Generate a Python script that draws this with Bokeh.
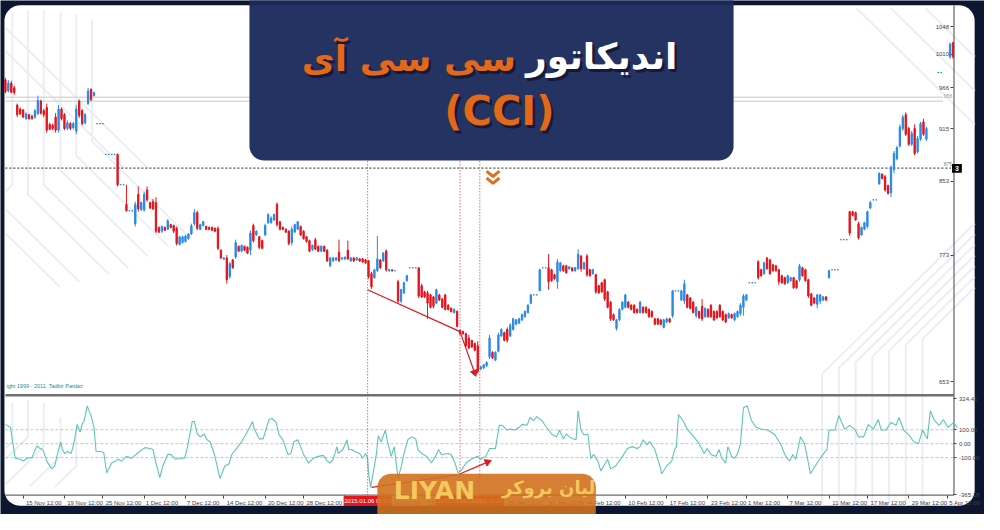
import math
from bokeh.plotting import figure
from bokeh.models import (Range1d, LinearScale, LinearAxis, FixedTicker,
                          PrintfTickFormatter, ColumnDataSource)
from bokeh.core.properties import value
from bokeh.embed import file_html
from bokeh.resources import INLINE

# ---------------- values ----------------
bar = list(range(313)) + [316, 317, 320, 321]
open_ = [
 976,962,972,966,944,939,938,927,932,930,
 929,933,949,937,941,920,919,929,913,939,
 932,915,921,916,912,949,937,922,946,964,
 956,921,921,921,884,884,884,884,884,849,
 849,827,820,820,806,838,821,821,843,829,
 830,829,802,798,802,800,805,804,801,784,
 786,787,790,795,806,818,800,804,803,802,
 802,801,801,778,769,770,751,768,771,782,
 777,782,781,778,804,794,792,788,794,807,
 807,810,827,808,802,800,798,786,797,800,
 803,798,792,788,779,789,782,777,782,778,
 762,767,768,776,769,769,778,767,770,768,
 769,769,768,767,754,750,757,768,767,777,
 757,758,757,746,727,735,747,760,760,760,
 760,742,736,735,733,731,725,733,729,733,
 723,720,716,717,699,698,696,692,690,687,
 685,664,665,667,675,679,672,680,694,697,
 700,694,700,705,706,709,712,716,725,733,
 733,737,760,760,760,758,753,746,757,762,
 762,759,760,757,759,772,759,772,758,754,
 753,742,745,748,736,726,714,701,709,719,
 721,726,723,723,719,716,721,721,719,717,
 710,710,709,702,707,710,713,737,737,728,
 727,733,730,726,713,717,722,712,719,723,
 717,717,723,717,714,711,714,709,712,715,
 721,728,745,745,745,766,758,754,770,768,
 763,762,758,752,750,745,747,750,747,748,
 760,758,748,734,730,724,727,728,731,750,
 758,758,758,789,789,789,819,819,818,806,
 794,800,803,823,832,832,850,861,858,848,
 840,866,879,894,915,932,915,896,915,887,
 902,923,902,
 986,986,1007,1026]
high = [
 979,976,975,969,946,941,939,935,933,932,
 939,956,951,939,946,922,921,934,944,941,
 934,925,923,923,944,951,939,934,966,965,
 961,921,921,921,884,884,884,884,885,849,
 849,849,820,820,830,847,830,841,847,830,
 833,835,803,804,803,811,806,805,803,793,
 793,794,796,806,822,820,806,809,804,803,
 803,802,803,779,771,773,766,769,789,783,
 784,783,782,799,806,799,793,789,806,817,
 814,817,829,809,803,801,799,803,806,809,
 804,799,793,789,784,791,783,783,783,779,
 771,771,771,789,771,771,788,771,771,771,
 770,770,769,768,756,759,793,769,776,779,
 759,758,757,748,739,746,753,760,760,760,
 760,744,737,737,734,732,739,734,730,734,
 724,721,720,718,700,699,697,695,690,688,
 689,667,668,671,695,680,680,697,701,698,
 702,706,711,710,711,715,718,724,734,733,
 733,759,760,760,774,759,754,769,766,763,
 763,761,760,761,779,773,766,774,759,759,
 754,743,746,749,737,727,715,710,720,727,
 734,727,724,724,720,727,722,722,720,718,
 711,711,710,710,711,711,738,737,737,738,
 748,734,731,727,722,718,729,721,720,724,
 718,718,724,718,715,716,715,716,718,725,
 734,734,745,745,745,768,759,766,771,769,
 764,763,759,753,751,753,751,751,748,764,
 761,759,749,735,731,734,734,732,732,758,
 758,758,758,789,789,789,820,820,819,808,
 803,808,820,831,832,832,863,862,860,849,
 871,888,894,920,932,935,917,912,920,906,
 923,927,917,
 986,986,1026,1026]
low = [
 959,960,959,957,929,932,928,926,926,926,
 927,932,932,929,910,913,913,910,910,925,
 913,913,913,914,908,928,919,920,944,949,
 955,921,921,921,884,884,884,884,847,849,
 849,819,820,820,803,819,820,819,830,822,
 821,796,796,796,798,799,801,796,783,783,
 785,786,789,794,804,799,799,803,799,799,
 798,797,778,769,768,744,749,759,769,776,
 776,777,774,773,786,793,779,779,793,806,
 806,809,803,799,799,796,783,783,796,799,
 793,789,786,776,777,778,776,776,776,766,
 761,766,767,766,768,768,768,766,766,767,
 766,765,764,749,739,749,756,759,766,756,
 756,756,757,725,725,734,746,760,760,760,
 730,730,730,710,720,720,724,727,720,718,
 718,716,715,702,695,695,684,682,683,680,
 660,663,664,666,673,673,671,679,693,689,
 688,693,699,704,705,708,711,715,724,733,
 733,737,760,760,738,746,748,739,756,756,
 754,758,756,756,758,756,758,751,751,753,
 734,734,735,727,720,708,708,699,708,718,
 720,720,718,715,715,715,715,715,711,711,
 704,704,704,701,706,706,711,737,737,727,
 724,720,719,715,711,710,708,711,711,711,
 708,710,711,708,706,710,710,708,711,713,
 713,727,745,745,745,748,751,753,758,753,
 756,756,743,744,743,744,746,739,739,746,
 751,746,730,722,724,720,724,727,727,749,
 758,758,758,789,789,789,793,814,809,789,
 793,799,801,822,832,832,849,855,841,838,
 835,862,877,892,912,906,894,894,883,885,
 900,906,900,
 986,986,1004,1004]
close = [
 961,972,960,960,932,933,929,933,927,927,
 937,950,934,932,913,914,915,913,939,927,
 915,922,915,921,939,931,921,932,962,951,
 960,921,921,921,884,884,884,884,849,849,
 849,820,820,820,827,822,829,838,832,823,
 822,798,797,803,799,809,802,798,785,792,
 792,793,795,804,818,801,805,808,800,800,
 799,798,780,770,770,748,764,760,786,777,
 783,778,775,796,788,798,781,780,804,816,
 812,816,805,800,800,797,785,800,805,808,
 794,790,787,777,783,779,777,782,777,767,
 770,770,770,767,770,771,769,770,767,770,
 767,766,765,751,741,758,769,760,775,758,
 758,757,757,727,738,745,752,760,760,760,
 732,731,731,725,721,722,738,728,721,719,
 719,717,719,703,696,696,685,683,684,681,
 662,666,668,670,692,674,679,695,700,690,
 690,704,710,709,710,714,717,723,733,733,
 733,758,760,760,746,747,749,766,765,757,
 755,761,757,760,774,759,765,753,752,758,
 736,735,736,729,721,710,709,709,719,726,
 733,721,719,716,716,726,716,716,712,712,
 705,705,705,709,710,707,737,737,737,737,
 744,721,720,716,721,711,710,720,712,712,
 709,711,712,709,707,715,711,715,717,723,
 732,733,745,745,745,750,752,765,759,754,
 757,757,746,745,744,752,750,740,740,762,
 752,747,732,723,725,733,733,731,728,757,
 758,758,758,789,789,789,796,815,810,791,
 802,807,819,829,832,832,862,856,843,839,
 869,885,892,917,929,908,896,909,885,903,
 921,908,915,
 986,986,1024,1007]

cci_bar = [
 0,1.7,3.3,5,6,7.3,9,10.7,11.7,12.7,
 14,15.7,16.7,17.7,18.7,19.3,20,21,22.3,23.3,
 24.3,25.3,26,26.7,27.7,29,30,30.7,32.3,33.3,
 34.3,36,37.3,38.3,39.3,41,42.7,45,47.3,49,
 50,51,52.3,53.3,55,56,57.7,59,60.7,61.7,
 63.3,64,65,66,67.3,68.3,69.3,70.7,71.7,72.7,
 74.3,75.7,76.7,78.3,80,82.3,83.7,84.3,86,87.3,
 88.3,89.3,90.3,91.7,92.7,94,95.7,96.7,97.7,99,
 100,101,102.7,104.3,106,107.7,109,110,111,112.3,
 112.7,114.3,115.7,116.3,117.3,118.3,120,121,122,122.7,
 123,123.7,124.3,125.7,126.3,127.3,128.7,129.3,130.7,131.7,
 133,134,135,136.3,137.7,139,139.7,141,142.7,144.3,
 145.7,146.7,147.7,150,151,152.3,153.3,154.3,156,158.3,
 160,161,162.7,164,165,166,167.3,168.3,170,171,
 172.7,174,175,176.7,177.7,179,180,181.7,183.3,185,
 186.7,187.7,189,190,191,192.3,193.3,194,195,196,
 197.3,198.3,199.3,200.7,201.7,202.7,204,205,206.7,209,
 210.7,212.3,214,215,216,217.3,218.3,220,221.7,222.3,
 224,225.7,226.7,227.3,228,229.3,231,232.7,235,236.7,
 237.7,239,240.7,241.7,242.7,244,244.7,246,247,248,
 249,250,251.3,252.7,254.3,256,258.3,260.7,262.7,264.3,
 265.7,266.7,267.7,269,269.3,270.7,271.7,272.7,274.3,276,
 277.7,278.3,279,281,282.3,283.3,284.3,286,287.7,289,
 290.7,292.3,294,295.7,296.7,298.3,300,301.7,302.7,304.3,
 306,307.7,309.3,310.7,312.3,313.3,314.7,316.3,317.7,319.3,
 321.3,322.3]
cci_val = [
 139,118,-105,-112,-125,-105,-98,-14,-35,-42,
 -125,-181,-160,-70,14,-42,-70,-56,-70,14,
 139,84,139,167,272,202,118,-56,-56,-63,
 -209,-139,-125,-112,-125,-91,-105,-63,-28,-35,
 -42,-139,-244,-160,-77,-77,-112,-105,-105,-21,
 160,160,70,49,70,28,14,-70,-160,-251,
 -160,-146,-77,-35,14,98,160,105,35,35,
 105,174,181,153,63,28,-77,-70,14,28,
 -21,-77,-139,-105,-91,-84,-125,-139,-112,-21,
 -70,-42,28,-42,-42,-56,-70,-105,-70,-105,
 -209,-314,-244,-70,56,14,98,28,-91,-21,
 -244,-174,-70,28,49,35,-42,-70,-91,-139,
 -91,-42,-77,-70,-77,-139,-209,-195,-139,-105,
 -91,-112,-91,-35,-35,-35,132,132,98,105,
 98,118,139,132,188,167,195,167,118,70,
 49,98,35,70,49,35,28,237,98,63,
 70,-105,-77,-125,-195,-160,-112,-181,-160,-91,
 -35,-21,-35,-21,28,-7,14,-42,-160,-216,
 -160,-125,-42,-21,209,174,105,63,0,-70,
 -35,-77,-91,-42,-105,-139,-21,-91,-105,-70,
 0,258,272,167,118,105,98,63,-7,-91,
 -125,-77,-112,14,49,0,-105,-216,-160,-105,
 -56,-42,98,98,202,153,105,132,105,49,
 49,139,105,174,98,98,153,132,188,98,
 63,14,0,98,35,237,167,132,174,118,
 153,118]

price_ticks = [1048, 1010, 966, 915, 853, 773, 653]
cci_ticks = [324.41, 100, 0, -100, -365.18]
cci_levels = [100, 0, -100]
date_ticks = [6, 20, 33, 47, 61, 74, 88, 101, 115, 129, 142, 156,
              169, 183, 197, 210, 224, 238, 251, 265, 279, 292, 306, 319]
date_labels = ["15 Nov 12:00", "19 Nov 12:00", "25 Nov 12:00", "1 Dec 12:00",
               "7 Dec 12:00", "14 Dec 12:00", "20 Dec 12:00", "28 Dec 12:00",
               "3 Jan 12:00", "7 Jan 12:00", "13 Jan 12:00", "19 Jan 12:00",
               "25 Jan 12:00", "31 Jan 12:00", "4 Feb 12:00", "10 Feb 12:00",
               "17 Feb 12:00", "23 Feb 12:00", "1 Mar 12:00", "7 Mar 12:00",
               "11 Mar 12:00", "17 Mar 12:00", "29 Mar 12:00", "5 Apr 12:00"]
vline_bars = [122.7, 154.0, 160.7]
vline_labels = ["2015.01.06 03:00", "2015.01.13 11:00", "2015.01.13 19:00"]
gray_price_lines = [954, 949]
dashed_price_line = 868
trend_price_bar, trend_price_val = [122.7, 154.0], [738, 698]
arrow_price_bar, arrow_price_val = [154.0, 158.9], [698, 661]
trend_cci_bar, trend_cci_val = [124.0, 153.3], [-314, -223]
arrow_cci_bar, arrow_cci_val = [153.3, 163.3], [-223, -132]

title_white = "اندیکاتور"
title_orange = "سی سی آی"
title_line2 = "(CCI)"
logo_latin = "LIYAN"
logo_persian = "لیان بروکر"
copyright_text = "ight 1999 - 2011, Tadbir Pardaz"

# ---------------- layout constants (reference-picture pixels) ----------------
W, H = 984, 514
PX_L, PX_R, PX_T, PX_B = 0, 1000, 0, 530
BAR_X0, BAR_DX = 5.0, 3.0
P_HI, Y_HI, P_LO, Y_LO = 1048.0, 27.0, 653.0, 393.0
K = math.log(P_HI / P_LO) / (Y_LO - Y_HI)


def price_at(y):
    return P_HI * math.exp(-(y - Y_HI) * K)


CCI0_Y, CCI_PPU = 457.0, 0.1435
AXIS_X, AXIS_Y = 969, 510

NAVY = "#0d1630"
BANNER = "#1c2b5c"
ORANGE = "#e2681a"
BLUE = "#2b8ae6"
RED = "#e3161f"
TEAL = "#5ec5b8"
DECO = "#eceef3"

p = figure(width=W, height=H,
           x_range=Range1d((PX_L - BAR_X0) / BAR_DX, (PX_R - BAR_X0) / BAR_DX),
           y_range=Range1d(price_at(PX_B), price_at(PX_T)),
           y_axis_type="log", x_axis_location=None, y_axis_location=None,
           toolbar_location=None, output_backend="svg", min_border=0,
           background_fill_color=NAVY, border_fill_color=NAVY,
           outline_line_color=None)
p.xgrid.grid_line_color = None
p.ygrid.grid_line_color = None
p.extra_x_ranges = {"px": Range1d(PX_L, PX_R)}
p.extra_y_ranges = {"px": Range1d(PX_B, PX_T),
                    "cci": Range1d((CCI0_Y - PX_B) / CCI_PPU, (CCI0_Y - PX_T) / CCI_PPU)}
p.extra_y_scales = {"px": LinearScale(), "cci": LinearScale()}
PX = dict(x_range_name="px", y_range_name="px")


def rrect(x0, y0, x1, y1, r, n=10):
    xs, ys = [], []
    for cx, cy, a0 in ((x0 + r, y0 + r, 180), (x1 - r, y0 + r, 270),
                       (x1 - r, y1 - r, 0), (x0 + r, y1 - r, 90)):
        for k in range(n + 1):
            a = math.radians(a0 + 90 * k / n)
            xs.append(cx + r * math.cos(a))
            ys.append(cy + r * math.sin(a))
    return xs, ys


# white rounded panel and faint background traces
wx, wy = rrect(4, 5, 990, 521, 16)
p.patch(wx, wy, fill_color="white", line_color=None, level="image", **PX)
deco = [
    [(12, 12), (12, 190), (5, 197)], [(28, 10), (28, 200), (110, 282)],
    [(44, 10), (44, 190), (130, 276)], [(61, 12), (61, 175), (150, 264)],
    [(77, 14), (77, 160), (170, 253)], [(93, 20), (93, 145), (190, 242)],
    [(5, 28), (150, 173)], [(5, 52), (125, 172)], [(5, 215), (80, 290)],
    [(5, 240), (60, 295)], [(12, 415), (12, 455), (5, 462)],
    [(28, 412), (28, 450), (5, 473)], [(44, 415), (44, 460), (5, 499)],
    [(61, 430), (61, 470), (30, 501)], [(77, 440), (77, 480), (55, 502)],
    [(870, 8), (990, 128)], [(905, 8), (990, 93)], [(940, 8), (990, 58)],
]
for k, x in enumerate([835, 852, 869, 886, 903, 920, 937]):
    yt = 385 - 6 * k
    deco.append([(x, 521), (x, yt), (990, yt - (990 - x))])
p.multi_line([[a for a, b in seg] for seg in deco], [[b for a, b in seg] for seg in deco],
             line_color=DECO, line_width=2, level="image", **PX)

# ---------------- axes ----------------
lab = dict(major_label_text_font="Liberation Sans", major_label_text_font_size="6px",
           major_label_text_color="#444444", axis_line_color=None,
           major_tick_line_color="#444444", minor_tick_line_color=None,
           major_tick_in=0, major_tick_out=3, major_label_standoff=2, level="underlay")
price_axis = LinearAxis(x_range_name="px", fixed_location=AXIS_X,
                        ticker=FixedTicker(ticks=price_ticks), **lab)
p.add_layout(price_axis, "left")
cci_axis = LinearAxis(x_range_name="px", y_range_name="cci", fixed_location=AXIS_X,
                      ticker=FixedTicker(ticks=cci_ticks),
                      formatter=PrintfTickFormatter(format="%.2f"), **lab)
p.add_layout(cci_axis, "right")
# tick marks at the label starts, labels centred just to their right
x_marks = LinearAxis(y_range_name="px", fixed_location=AXIS_Y,
                     ticker=FixedTicker(ticks=date_ticks), **lab)
x_marks.major_label_text_color = None
p.add_layout(x_marks, "below")
label_pos = [t + (7 if len(s) >= 12 else 6) for t, s in zip(date_ticks, date_labels)]
x_labels = LinearAxis(y_range_name="px", fixed_location=AXIS_Y,
                      ticker=FixedTicker(ticks=label_pos),
                      major_label_overrides=dict(zip(label_pos, date_labels)), **lab)
x_labels.major_tick_line_color = None
p.add_layout(x_labels, "below")

# axis lines and panel separator
p.segment(x0=[AXIS_X, 5], y0=[5, AXIS_Y], x1=[AXIS_X, AXIS_X], y1=[AXIS_Y, AXIS_Y],
          line_color="#444444", line_width=1, **PX)
p.segment(x0=[5], y0=[407], x1=[AXIS_X], y1=[407], line_color="#707070", line_width=2.5, **PX)

# price reference lines
p.segment(x0=[5] * 2, x1=[958] * 2, y0=gray_price_lines, y1=gray_price_lines,
          x_range_name="px", line_color="#c8c8c8", line_width=1)
p.segment(x0=[5], x1=[966], y0=[dashed_price_line], y1=[dashed_price_line],
          x_range_name="px", line_color="#222222", line_width=1, line_dash="2 2")

# CCI levels and line
p.segment(x0=[5] * 3, x1=[AXIS_X] * 3, y0=cci_levels, y1=cci_levels,
          x_range_name="px", y_range_name="cci", line_color="#c4c4c4",
          line_width=1, line_dash="3 2")
p.line(cci_bar, cci_val, y_range_name="cci", line_color=TEAL, line_width=1.1)

# vertical marker lines
p.segment(x0=vline_bars, x1=vline_bars, y0=[5] * 3, y1=[AXIS_Y] * 3,
          y_range_name="px", line_color="#e0222a", line_width=1, line_dash="1 2")

# candles
colors = [BLUE if c >= o else RED for o, c in zip(open_, close)]
src = ColumnDataSource(dict(bar=bar, high=high, low=low,
                            top=[max(o, c) for o, c in zip(open_, close)],
                            bottom=[min(o, c) for o, c in zip(open_, close)],
                            color=colors))
p.segment(x0="bar", y0="low", x1="bar", y1="high", line_color="color", line_width=1, source=src)
p.vbar(x="bar", width=0.45, top="top", bottom="bottom", fill_color="color",
       line_color="color", line_width=1, source=src)

# trend lines with arrows
p.line(trend_price_bar, trend_price_val, line_color=RED, line_width=1.2)
p.line(arrow_price_bar, arrow_price_val, line_color=RED, line_width=1.2)
p.scatter([arrow_price_bar[-1]], [arrow_price_val[-1]], marker="triangle", size=7,
          angle=-2.806, fill_color=RED, line_color=RED)
p.line(trend_cci_bar, trend_cci_val, y_range_name="cci", line_color=RED, line_width=1.2)
p.line(arrow_cci_bar, arrow_cci_val, y_range_name="cci", line_color=RED, line_width=1.2)
p.scatter([arrow_cci_bar[-1]], [arrow_cci_val[-1]], y_range_name="cci", marker="triangle",
          size=7, angle=-1.162, fill_color=RED, line_color=RED)

# orange chevron
p.multi_line([[494, 500.5, 507], [494, 500.5, 507]], [[176, 181.5, 176], [183, 188.5, 183]],
             line_color="#d9731f", line_width=3, **PX)

# small texts
p.text(x=[6], y=[397], text=[copyright_text], text_align="left", text_baseline="middle",
       text_font=value("Liberation Sans"), text_font_size="5.5px", text_color="#2a8c8c", **PX)
p.text(x=[967], y=[169], text=["875"], text_align="right", text_baseline="middle",
       text_font=value("Liberation Sans"), text_font_size="5px", text_color="#777777", **PX)
p.text(x=[967], y=[98], text=["958"], text_align="right", text_baseline="middle",
       text_font=value("Liberation Sans"), text_font_size="5px", text_color="#999999", **PX)
p.rect(x=[972], y=[173], width=10, height=9, fill_color="black", line_color=None, **PX)
p.text(x=[972], y=[173.5], text=["3"], text_align="center", text_baseline="middle",
       text_font=value("Liberation Sans"), text_font_size="7px", text_font_style="bold",
       text_color="white", **PX)

# title banner
bx, by = rrect(253, -20, 745, 165, 15)
p.patch(bx, by, fill_color=BANNER, fill_alpha=0.96, line_color=None, **PX)
title_font = dict(text_font=value("DejaVu Sans"), text_font_style="bold",
                  text_align="center", text_baseline="middle")
for dx, dy, col, alpha in ((2.5, 3, "#070b1c", 0.6), (0, 0, None, 1.0)):
    p.text(x=[611 + dx], y=[58 + dy], text=[title_white], text_font_size="36px",
           text_color=col or "white", text_alpha=alpha, **title_font, **PX)
    p.text(x=[415 + dx], y=[60 + dy], text=[title_orange], text_font_size="36px",
           text_color=col or ORANGE, text_alpha=alpha, **title_font, **PX)
    p.text(x=[507 + dx], y=[114 + dy], text=[title_line2], text_font_size="40px",
           text_color=col or ORANGE, text_alpha=alpha, **title_font, **PX)

# red time labels of the vertical lines
p.rect(x=vline_bars, y=[516] * 3, width=48, height=10, width_units="screen",
       height_units="screen", y_range_name="px", fill_color="#e8141c", line_color=None)
p.text(x=vline_bars, y=[516.5] * 3, text=vline_labels, y_range_name="px",
       text_align="center", text_baseline="middle", text_font=value("Liberation Sans"),
       text_font_size="6px", text_color="white")

# logo
lx, ly = rrect(383, 488, 605, 550, 14)
p.patch(lx, ly, fill_color="#d0701e", fill_alpha=0.9, line_color=None, **PX)
p.text(x=[441], y=[505], text=[logo_latin], text_align="center", text_baseline="middle",
       text_font=value("DejaVu Sans"), text_font_style="bold", text_font_size="25px",
       text_color="#f3c85c", **PX)
p.text(x=[557], y=[502], text=[logo_persian], text_align="center", text_baseline="middle",
       text_font=value("DejaVu Sans"), text_font_style="bold", text_font_size="18px",
       text_color="#f3c85c", **PX)

open("out.html", "w").write(file_html(p, INLINE))
